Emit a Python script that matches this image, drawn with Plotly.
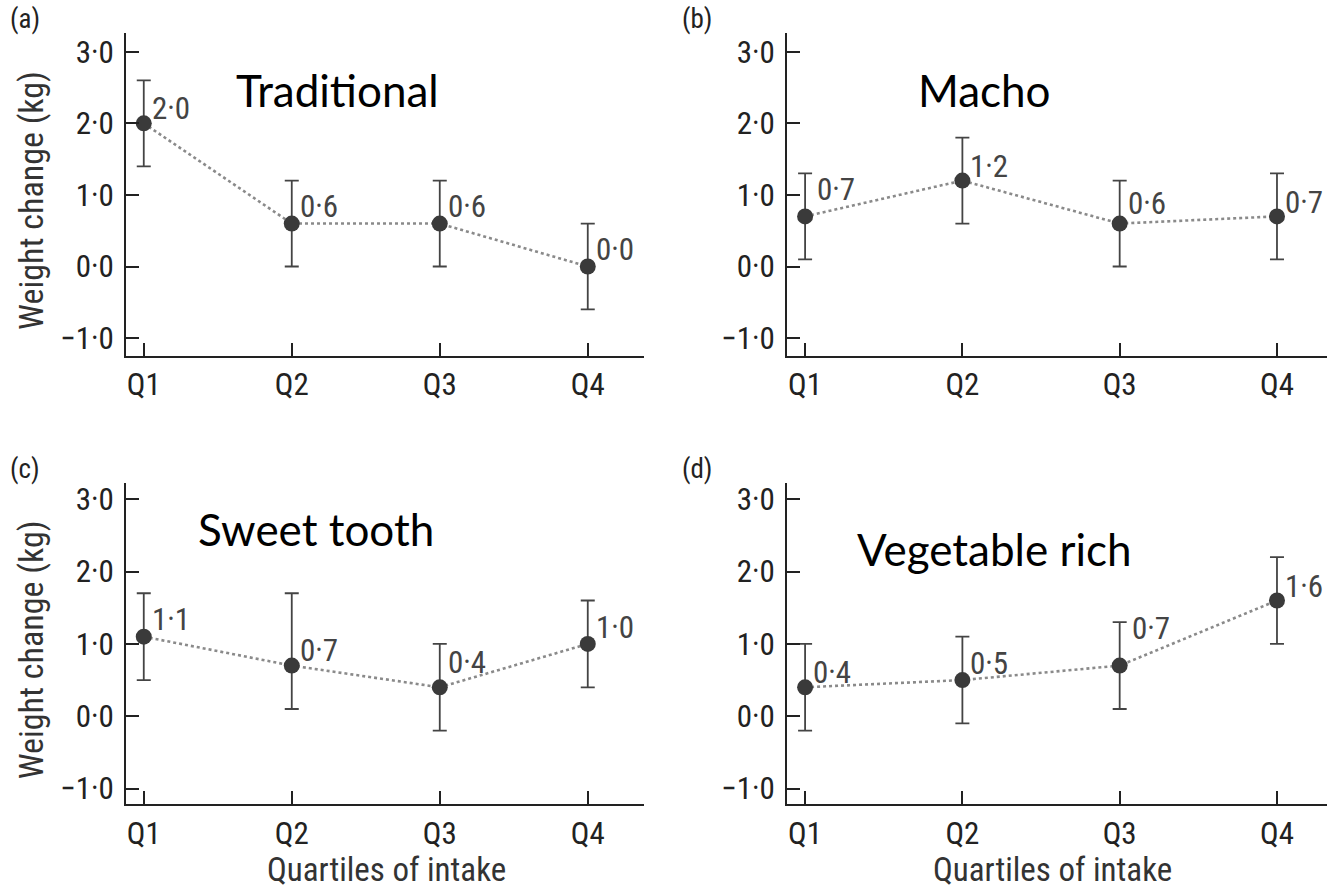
import plotly.graph_objects as go

W, H = 1327, 893

quartiles = ["Q1", "Q2", "Q3", "Q4"]
panel_names = ["Traditional", "Macho", "Sweet tooth", "Vegetable rich"]
panel_letters = ["(a)", "(b)", "(c)", "(d)"]

trad_mean = [2.0, 0.6, 0.6, 0.0]
trad_low = [1.4, 0.0, 0.0, -0.6]
trad_high = [2.6, 1.2, 1.2, 0.6]

macho_mean = [0.7, 1.2, 0.6, 0.7]
macho_low = [0.1, 0.6, 0.0, 0.1]
macho_high = [1.3, 1.8, 1.2, 1.3]

sweet_mean = [1.1, 0.7, 0.4, 1.0]
sweet_low = [0.5, 0.1, -0.2, 0.4]
sweet_high = [1.7, 1.7, 1.0, 1.6]

veg_mean = [0.4, 0.5, 0.7, 1.6]
veg_low = [-0.2, -0.1, 0.1, 1.0]
veg_high = [1.0, 1.1, 1.3, 2.2]

ytick_vals = [-1, 0, 1, 2, 3]
ytick_text = ["\u22121\u00b70", "0\u00b70", "1\u00b70", "2\u00b70", "3\u00b70"]

series = [
    (trad_mean, trad_low, trad_high),
    (macho_mean, macho_low, macho_high),
    (sweet_mean, sweet_low, sweet_high),
    (veg_mean, veg_low, veg_high),
]

# label placement (pixel shifts above each point), layout only
label_yshift = [[15, 17, 17, 17], [27, 14, 20, 14], [17, 15, 25, 16], [15, 17, 37, 14]]
label_xshift = [[6, 6, 6, 6], [10, 6, 6, 6], [6, 6, 6, 6], [6, 6, 10, 6]]

def fx(px):
    return px / W

def fy(py):
    return 1 - py / H

NARROW = "Liberation Sans Narrow, Roboto Condensed, DejaVu Sans Condensed, Arial Narrow, sans-serif"
TITLEF = "Lato, Open Sans, sans-serif"
AX = "#222222"

# pixel boxes: (left, right, top, bottom), y range, x range
boxes = [
    (126, 644, 31, 356, [-1.25, 3.264], [-0.12, 3.38]),
    (787, 1327, 31, 356, [-1.25, 3.264], [-0.115, 3.318]),
    (126, 644, 484, 807, [-1.22, 3.22], [-0.12, 3.38]),
    (787, 1327, 484, 807, [-1.22, 3.22], [-0.115, 3.318]),
]

fig = go.Figure()
annotations = []

for i, ((m, lo, hi), (l, r, t, b, yr, xr)) in enumerate(zip(series, boxes)):
    n = "" if i == 0 else str(i + 1)
    xa, ya = "x" + n, "y" + n
    fig.add_trace(go.Scatter(
        x=quartiles, y=m, xaxis=xa, yaxis=ya, mode="lines+markers",
        line=dict(color="#8a8a8a", width=2.6, dash="dot"),
        marker=dict(size=16, color="#3a3a3a"),
        error_y=dict(type="data", symmetric=False,
                     array=[h - v for h, v in zip(hi, m)],
                     arrayminus=[v - w for v, w in zip(m, lo)],
                     color="#444444", thickness=1.8, width=7),
        showlegend=False, cliponaxis=False,
    ))
    for j, (q, v) in enumerate(zip(quartiles, m)):
        annotations.append(dict(
            x=q, y=v, xref=xa, yref=ya, text=f"{v:.1f}".replace(".", "\u00b7"),
            showarrow=False, xanchor="left", yanchor="middle",
            xshift=label_xshift[i][j], yshift=label_yshift[i][j],
            font=dict(family=NARROW, size=31, color="#444444"),
        ))
    common = dict(showline=True, linecolor=AX, linewidth=2, ticks="inside",
                  ticklen=13, tickwidth=2, tickcolor=AX, showgrid=False,
                  zeroline=False, fixedrange=True,
                  tickfont=dict(family=NARROW, size=31, color=AX))
    fig.layout["xaxis" + n] = dict(common, domain=[fx(l), fx(r)], range=xr,
                                   anchor=ya, type="category",
                                   categoryorder="array", categoryarray=quartiles)
    fig.layout["yaxis" + n] = dict(common, domain=[fy(b), fy(t)], range=yr,
                                   anchor=xa, tickvals=ytick_vals, ticktext=ytick_text,
                                   ticklabelstandoff=4)

# panel titles
title_pos = [(338, 88), (984, 88), (316, 530), (994, 550)]
for name, (px, py) in zip(panel_names, title_pos):
    annotations.append(dict(x=fx(px), y=fy(py), xref="paper", yref="paper",
                            text=name, showarrow=False, xanchor="center", yanchor="middle",
                            font=dict(family=TITLEF, size=44, color="#000000")))

# panel letters
letter_pos = [(8, 17), (680, 17), (8, 470), (680, 470)]
for lt, (px, py) in zip(panel_letters, letter_pos):
    annotations.append(dict(x=fx(px), y=fy(py), xref="paper", yref="paper",
                            text=lt, showarrow=False, xanchor="left", yanchor="middle",
                            font=dict(family=NARROW, size=27, color=AX)))

# y axis titles
for py in [200, 652]:
    annotations.append(dict(x=fx(31), y=fy(py), xref="paper", yref="paper",
                            text="Weight change (kg)", textangle=-90, showarrow=False,
                            xanchor="center", yanchor="middle",
                            font=dict(family=NARROW, size=34, color="#333333")))

# x axis titles
for px in [386, 1052]:
    annotations.append(dict(x=fx(px), y=fy(872), xref="paper", yref="paper",
                            text="Quartiles of intake", showarrow=False,
                            xanchor="center", yanchor="middle",
                            font=dict(family=NARROW, size=33, color="#333333")))

fig.update_layout(
    width=W, height=H, margin=dict(l=0, r=0, t=0, b=0),
    paper_bgcolor="white", plot_bgcolor="white",
    annotations=annotations, showlegend=False,
)

fig.write_html("out.html")
